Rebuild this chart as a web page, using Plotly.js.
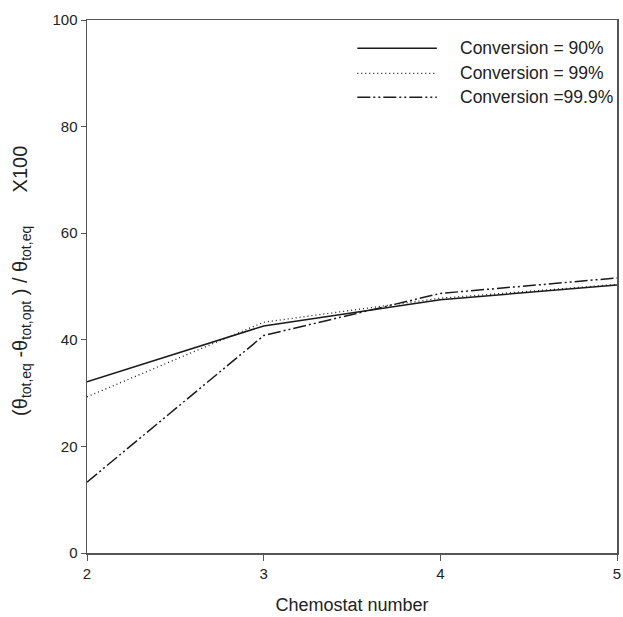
<!DOCTYPE html>
<html><head><meta charset="utf-8">
<script src="https://cdn.plot.ly/plotly-3.0.1.min.js"></script>
<style>html,body{margin:0;padding:0;background:#fff}</style>
</head><body><div id="chart" style="width:623px;height:617px"></div>
<script>
const chemostat = [2, 3, 4, 5];
const conv90 = [32.1, 42.6, 47.5, 50.3];
const conv99 = [29.3, 43.3, 47.8, 50.4];
const conv999 = [13.3, 40.8, 48.7, 51.6];
const names = ["Conversion = 90%", "Conversion = 99%", "Conversion =99.9%"];
const yTicks = [0, 20, 40, 60, 80, 100];
const dashes = ["solid", "1px,3px", "13px,3px,2px,3px,2px,3px"];
const series = [conv90, conv99, conv999];

const traces = series.map((s, i) => ({
  x: chemostat, y: s, type: "scatter", mode: "lines", name: names[i],
  line: {color: "#1a1a1a", width: i === 1 ? 1.3 : 1.5, dash: dashes[i]},
  showlegend: false
}));

const FONT = "Liberation Sans, Arial";
const shapes = [];
const annotations = [];
const legY = [0.947, 0.9, 0.855];
names.forEach((n, i) => {
  shapes.push({type: "line", xref: "paper", yref: "paper", x0: 0.51, x1: 0.66, y0: legY[i], y1: legY[i],
    line: {color: "#1a1a1a", width: i === 1 ? 1.3 : 1.5, dash: dashes[i]}});
  annotations.push({xref: "paper", yref: "paper", x: 0.7, y: legY[i], xanchor: "left", yanchor: "middle",
    text: n, showarrow: false, font: {family: FONT, size: 17.5, color: "#222"}});
});
annotations.push({
  xref: "paper", yref: "paper", x: -0.125, y: 0.51, xanchor: "center", yanchor: "middle",
  textangle: -90, showarrow: false,
  text: "(θ<sub>tot,eq</sub> -θ<sub>tot,opt</sub> ) / θ<sub>tot,eq</sub>      X100",
  font: {family: FONT, size: 20, color: "#222"}
});

const layout = {
  width: 623, height: 617,
  margin: {l: 87, r: 6, t: 20, b: 64},
  paper_bgcolor: "#fff", plot_bgcolor: "#fff",
  showlegend: false,
  font: {family: FONT, color: "#222"},
  xaxis: {
    range: [2, 5], tickvals: chemostat, ticks: "outside", ticklen: 6, tickcolor: "#555",
    showgrid: false, zeroline: false, showline: true, linecolor: "#555", linewidth: 1.5, mirror: true,
    tickfont: {size: 15}, title: {text: "Chemostat number", font: {size: 18}, standoff: 18}
  },
  yaxis: {
    range: [0, 100], tickvals: yTicks, ticks: "outside", ticklen: 5, tickcolor: "#555",
    showgrid: false, zeroline: false, showline: true, linecolor: "#555", linewidth: 1.5, mirror: true,
    tickfont: {size: 15}
  },
  shapes: shapes, annotations: annotations
};
Plotly.newPlot("chart", traces, layout, {displayModeBar: false, staticPlot: true});
</script></body></html>
